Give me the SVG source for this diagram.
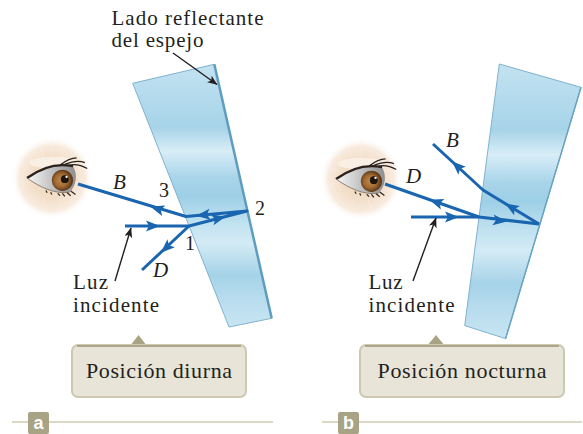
<svg xmlns="http://www.w3.org/2000/svg" xmlns:xlink="http://www.w3.org/1999/xlink" width="583" height="434" viewBox="0 0 583 434">
  <style>
    .lbl { font-family: "Liberation Serif", "Times New Roman", serif; font-size: 21px; fill: #231f20; }
    .it { font-style: italic; }
    .num { font-family: "Liberation Serif", "Times New Roman", serif; font-size: 20px; fill: #231f20; }
    .cap { font-family: "Liberation Serif", "Times New Roman", serif; font-size: 22px; fill: #231f20; text-anchor: middle; }
    .ray { fill: none; stroke: #1a65b0; stroke-width: 3; stroke-linejoin: round; }
    .ptr { fill: none; stroke: #231f20; stroke-width: 1.4; marker-end: url(#tip); }
    .glass { fill: url(#glassGrad); stroke: #7fb3cf; stroke-width: 1; }
    .box { fill: #e8e5d8; stroke: #cdc9b1; stroke-width: 2; }
    .boxTop { fill: none; stroke: #aca688; stroke-width: 2; }
    .tab { fill: #a9a386; }
    .rule { stroke: #dcd8c5; stroke-width: 2; }
    .tag { font-family: "Liberation Sans", Arial, sans-serif; font-size: 18px; font-weight: bold; fill: #ffffff; text-anchor: middle; }
  </style>
  <defs>
    <linearGradient id="glassGrad" x1="0" y1="0" x2="0" y2="1">
      <stop offset="0" stop-color="#c3e2f0"/>
      <stop offset="0.12" stop-color="#b4dbed"/>
      <stop offset="0.24" stop-color="#a7d3e8"/>
      <stop offset="0.33" stop-color="#d8edf7"/>
      <stop offset="0.43" stop-color="#a9d5ea"/>
      <stop offset="0.5" stop-color="#9dcfe6"/>
      <stop offset="0.6" stop-color="#bfe1f0"/>
      <stop offset="0.68" stop-color="#d4ebf5"/>
      <stop offset="0.8" stop-color="#a6d3e8"/>
      <stop offset="0.9" stop-color="#b9ddee"/>
      <stop offset="1" stop-color="#c8e5f2"/>
    </linearGradient>
    <radialGradient id="glow" cx="0.5" cy="0.5" r="0.5">
      <stop offset="0" stop-color="#efd5ba"/>
      <stop offset="0.5" stop-color="#f3dfca"/>
      <stop offset="0.8" stop-color="#f8ebde"/>
      <stop offset="1" stop-color="#ffffff" stop-opacity="0"/>
    </radialGradient>
    <linearGradient id="sclera" x1="0" y1="0" x2="1" y2="0">
      <stop offset="0" stop-color="#f6f6f6"/>
      <stop offset="0.4" stop-color="#cdcdcd"/>
      <stop offset="1" stop-color="#8e8e8e"/>
    </linearGradient>
    <radialGradient id="irisGrad" cx="0.45" cy="0.5" r="0.5">
      <stop offset="0" stop-color="#c0894a"/>
      <stop offset="0.6" stop-color="#a06a33"/>
      <stop offset="1" stop-color="#5e3a1b"/>
    </radialGradient>
    <clipPath id="eyeClip">
      <path d="M-22,0 C-11,-8 3,-13 17,-10 C21,-3 20,6 14,12 C2,14 -11,8 -22,0 Z"/>
    </clipPath>
    <!-- eye with its soft skin halo, drawn around (0,0) -->
    <g id="eye">
      <circle r="41" fill="url(#glow)"/>
      <g stroke="#fbf3ea" stroke-width="0.6" opacity="0.7">
        <path d="M0,-38 L0,-22 M14,-35 L8,-20 M-14,-35 L-8,-20 M27,-27 L16,-15 M-27,-27 L-16,-15 M35,-13 L21,-7 M-35,-13 L-21,-7 M36,6 L22,4 M-36,6 L-22,4 M30,23 L18,14 M-30,23 L-18,14 M13,36 L7,21 M-13,36 L-7,21"/>
      </g>
      <g transform="translate(1,0) scale(1.18)">
        <ellipse cx="0" cy="-13" rx="20" ry="5" fill="#f9efe4"/>
        <path d="M-22,0 C-11,-8 3,-13 17,-10 C21,-3 20,6 14,12 C2,14 -11,8 -22,0 Z" fill="url(#sclera)"/>
        <g clip-path="url(#eyeClip)">
          <circle cx="8" cy="2" r="9" fill="url(#irisGrad)"/>
          <circle cx="10" cy="1" r="3.3" fill="#1e1510"/>
          <circle cx="11.5" cy="-1" r="1" fill="#ffffff"/>
        </g>
        <path d="M-22,0 C-11,-8 3,-13 17,-10" fill="none" stroke="#2a211c" stroke-width="2"/>
        <path d="M10,-11.5 C16,-14 22,-15 27,-13 M14,-11 C19,-12 24,-11 29,-8 M6,-11 C10,-14 15,-17 20,-17" fill="none" stroke="#2a211c" stroke-width="1.1"/>
        <path d="M-22,0 C-11,8 2,14 14,12" fill="none" stroke="#8c7a6c" stroke-width="0.8"/>
        <path d="M4,13 L6,15 M8,13 L10,15.5 M12,12.5 L15,15 M15,11 L19,14 M-2,12 L-1,14 M-6,10.5 L-5,12.5" fill="none" stroke="#2a211c" stroke-width="1"/>
      </g>
    </g>
    <path id="head" d="M7,0 L-7,-5.5 L-4,0 L-7,5.5 Z" fill="#1a65b0"/>
    <marker id="tip" viewBox="0 0 10 8" refX="9.5" refY="4" markerWidth="10" markerHeight="8" markerUnits="userSpaceOnUse" orient="auto">
      <path d="M0,0 L10,4 L0,8 L2.5,4 Z" fill="#231f20"/>
    </marker>
  </defs>

  <!-- panel a: day position -->
  <g id="eye-a">
    <use href="#eye" xlink:href="#eye" transform="translate(52,178)"/>
  </g>
  <g id="mirror-a">
    <polygon class="glass" points="132.7,83.3 214.3,64.3 271.7,318.3 229,327"/>
    <line x1="214.3" y1="64.3" x2="271.7" y2="318.3" stroke="#5e9cc0" stroke-width="2.5"/>
  </g>

  <!-- panel b: night position -->
  <g id="eye-b">
    <use href="#eye" xlink:href="#eye" transform="translate(361,179)"/>
  </g>
  <g id="mirror-b">
    <polygon class="glass" points="499.3,64 581,87.3 505.6,338.6 464.7,325.6"/>
    <line x1="581" y1="87.3" x2="505.6" y2="338.6" stroke="#6aa3c4" stroke-width="1.5"/>
  </g>

  <g id="connectors">
    <!-- panel a rays -->
    <polyline class="ray" points="125,226 189,226 247,211 186,216.5 78,184"/>
    <line class="ray" x1="189" y1="226" x2="142" y2="270"/>
    <use href="#head" xlink:href="#head" transform="translate(153,226)"/>
    <use href="#head" xlink:href="#head" transform="translate(219,218.2) rotate(-14.3)"/>
    <use href="#head" xlink:href="#head" transform="translate(203,215) rotate(174.6)"/>
    <use href="#head" xlink:href="#head" transform="translate(157,208.6) rotate(-163)"/>
    <use href="#head" xlink:href="#head" transform="translate(166,248) rotate(137)"/>

    <!-- panel b rays -->
    <polyline class="ray" points="411,217 479,217 539,224"/>
    <line class="ray" x1="479" y1="217" x2="385" y2="184"/>
    <polyline class="ray" points="539,224 483,190 433,144"/>
    <use href="#head" xlink:href="#head" transform="translate(452,217)"/>
    <use href="#head" xlink:href="#head" transform="translate(500,220.7) rotate(6.8)"/>
    <use href="#head" xlink:href="#head" transform="translate(436,202) rotate(-160.7)"/>
    <use href="#head" xlink:href="#head" transform="translate(511,207) rotate(-148.7)"/>
    <use href="#head" xlink:href="#head" transform="translate(457,166) rotate(-137.4)"/>

    <!-- pointer lines -->
    <line class="ptr" x1="173" y1="53" x2="217" y2="84.5"/>
    <line class="ptr" x1="115" y1="281" x2="131" y2="228"/>
    <line class="ptr" x1="413" y1="281" x2="436" y2="218"/>
  </g>

  <!-- labels -->
  <text class="lbl" x="111.5" y="25" textLength="152" lengthAdjust="spacing">Lado reflectante</text>
  <text class="lbl" x="111.5" y="47" textLength="92" lengthAdjust="spacing">del espejo</text>
  <text class="lbl it" x="113" y="188.5">B</text>
  <text class="num" x="159" y="197">3</text>
  <text class="num" x="255" y="215">2</text>
  <text class="num" x="185" y="249.5">1</text>
  <text class="lbl it" x="153" y="277">D</text>
  <text class="lbl" x="73" y="289" textLength="35" lengthAdjust="spacing">Luz</text>
  <text class="lbl" x="73" y="312" textLength="86" lengthAdjust="spacing">incidente</text>

  <text class="lbl it" x="446" y="146.5">B</text>
  <text class="lbl it" x="406" y="182.5">D</text>
  <text class="lbl" x="368.5" y="288.5" textLength="34" lengthAdjust="spacing">Luz</text>
  <text class="lbl" x="368.5" y="311.5" textLength="86" lengthAdjust="spacing">incidente</text>

  <!-- caption boxes -->
  <g id="caption-a">
    <polygon class="tab" points="130,346 138.5,335 147,346"/>
    <rect class="box" x="72" y="345" width="174" height="52" rx="6"/>
    <line class="boxTop" x1="77" y1="346" x2="241" y2="346"/>
    <text class="cap" x="159" y="378" textLength="146" lengthAdjust="spacing">Posición diurna</text>
  </g>
  <g id="caption-b">
    <polygon class="tab" points="427,346 436,335 445,346"/>
    <rect class="box" x="360" y="345" width="204" height="52" rx="6"/>
    <line class="boxTop" x1="365" y1="346" x2="559" y2="346"/>
    <text class="cap" x="462" y="378" textLength="169" lengthAdjust="spacing">Posición nocturna</text>
  </g>

  <!-- panel tags -->
  <g id="tag-a">
    <line class="rule" x1="12" y1="422" x2="273" y2="422"/>
    <rect class="tab" x="28" y="412" width="21" height="22" rx="2"/>
    <text class="tag" x="38.5" y="429">a</text>
  </g>
  <g id="tag-b">
    <line class="rule" x1="322" y1="422" x2="582" y2="422"/>
    <rect class="tab" x="338" y="412" width="21" height="22" rx="2"/>
    <text class="tag" x="348.5" y="429">b</text>
  </g>
</svg>
